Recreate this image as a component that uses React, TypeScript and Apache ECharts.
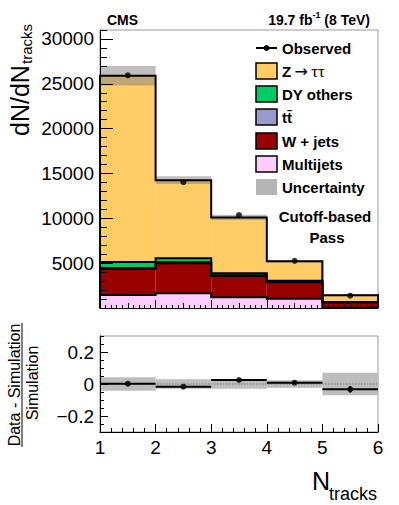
import { useEffect, useRef } from 'react';
import * as echarts from 'echarts';

const FONT = '"Liberation Sans", Arial, Helvetica, sans-serif';

const binEdges = [1, 2, 3, 4, 5, 6];
const multijets = [1450, 1640, 1190, 1040, 30];
const wjets = [2900, 3350, 2380, 1830, 610];
const ttbar = [100, 100, 80, 60, 15];
const dyOthers = [680, 460, 220, 120, 15];
const ztautau = [20770, 8700, 6230, 2160, 750];
const observed = [25950, 14030, 10360, 5260, 1375];
const mcUnc = [1090, 430, 300, 125, 100];
const ratio = [0.002, -0.017, 0.025, 0.008, -0.033];
const ratioErr = [0.004, 0.005, 0.006, 0.008, 0.02];
const ratioUnc = [0.042, 0.03, 0.03, 0.024, 0.07];
const yTicks = [5000, 10000, 15000, 20000, 25000, 30000];
const ratioTicks = [-0.2, 0, 0.2];

const comps = [
  { name: 'Multijets', values: multijets, color: '#ffccff' },
  { name: 'W + jets', values: wjets, color: '#990000' },
  { name: 'tt\u0304', values: ttbar, color: '#9999cc' },
  { name: 'DY others', values: dyOthers, color: '#00cc66' },
  { name: 'Z \u2192 \u03c4\u03c4', values: ztautau, color: '#ffcc66' },
];

export default function App() {
  const ref = useRef<HTMLDivElement>(null);
  useEffect(() => {
    const chart = echarts.init(ref.current!, null, { renderer: 'svg' });
    const nb = binEdges.length - 1;
    const cum: number[][] = [];
    const base: number[][] = [];
    comps.forEach((c, k) => {
      base.push(c.values.map((_, i) => (k === 0 ? 0 : cum[k - 1][i])));
      cum.push(c.values.map((v, i) => base[k][i] + v));
    });
    const total = cum[cum.length - 1];
    const centers = binEdges.slice(0, nb).map((e, i) => (e + binEdges[i + 1]) / 2);

    const rectItem = (fill: string) => (params: any, api: any) => {
      const p0 = api.coord([api.value(0), api.value(3)]);
      const p1 = api.coord([api.value(1), api.value(2)]);
      return {
        type: 'rect',
        shape: { x: p0[0], y: p0[1], width: p1[0] - p0[0], height: p1[1] - p0[1] },
        style: { fill },
      };
    };

    const fillSeries = comps.map((c, k) => ({
      type: 'custom',
      name: c.name,
      xAxisIndex: 0,
      yAxisIndex: 0,
      z: 2,
      data: c.values.map((_, i) => [binEdges[i], binEdges[i + 1], base[k][i], cum[k][i]]),
      encode: { x: [0, 1], y: [2, 3] },
      renderItem: rectItem(c.color),
    }));

    const outlineSeries = comps.map((c, k) => ({
      type: 'custom',
      xAxisIndex: 0,
      yAxisIndex: 0,
      z: 4,
      data: [[binEdges[0], 0]],
      renderItem: (params: any, api: any) => {
        const pts: number[][] = [api.coord([binEdges[0], 0])];
        for (let i = 0; i < nb; i++) {
          pts.push(api.coord([binEdges[i], cum[k][i]]));
          pts.push(api.coord([binEdges[i + 1], cum[k][i]]));
        }
        pts.push(api.coord([binEdges[nb], 0]));
        return { type: 'polyline', shape: { points: pts }, style: { stroke: '#000', lineWidth: 2, fill: 'none' } };
      },
    }));

    const uncSeries = {
      type: 'custom',
      xAxisIndex: 0,
      yAxisIndex: 0,
      z: 3,
      data: total.map((t, i) => [binEdges[i], binEdges[i + 1], t - mcUnc[i], t + mcUnc[i]]),
      encode: { x: [0, 1], y: [2, 3] },
      renderItem: rectItem('rgba(128,128,128,0.5)'),
    };

    const obsSeries = {
      type: 'scatter',
      xAxisIndex: 0,
      yAxisIndex: 0,
      z: 5,
      symbol: 'circle',
      symbolSize: 6,
      itemStyle: { color: '#000' },
      data: observed.map((v, i) => [centers[i], v]),
    };

    const ratioBand = {
      type: 'custom',
      xAxisIndex: 2,
      yAxisIndex: 2,
      z: 2,
      data: ratioUnc.map((u, i) => [binEdges[i], binEdges[i + 1], -u, u]),
      encode: { x: [0, 1], y: [2, 3] },
      renderItem: rectItem('#bdbdbd'),
    };

    const zeroLine = {
      type: 'custom',
      xAxisIndex: 2,
      yAxisIndex: 2,
      z: 3,
      data: [[binEdges[0], 0]],
      renderItem: (params: any, api: any) => {
        const a = api.coord([binEdges[0], 0]);
        const b = api.coord([binEdges[nb], 0]);
        return {
          type: 'line',
          shape: { x1: a[0], y1: a[1], x2: b[0], y2: b[1] },
          style: { stroke: '#777', lineWidth: 1, lineDash: [1.5, 1.5] },
        };
      },
    };

    const ratioLines = {
      type: 'custom',
      xAxisIndex: 2,
      yAxisIndex: 2,
      z: 4,
      data: ratio.map((r, i) => [binEdges[i], binEdges[i + 1], r]),
      renderItem: (params: any, api: any) => {
        const a = api.coord([api.value(0), api.value(2)]);
        const b = api.coord([api.value(1), api.value(2)]);
        return {
          type: 'line',
          shape: { x1: a[0], y1: a[1], x2: b[0], y2: b[1] },
          style: { stroke: '#000', lineWidth: 2 },
        };
      },
    };

    const ratioErrSeries = {
      type: 'custom',
      xAxisIndex: 2,
      yAxisIndex: 2,
      z: 4,
      data: ratio.map((r, i) => [centers[i], r - ratioErr[i], r + ratioErr[i]]),
      renderItem: (params: any, api: any) => {
        const a = api.coord([api.value(0), api.value(1)]);
        const b = api.coord([api.value(0), api.value(2)]);
        return {
          type: 'line',
          shape: { x1: a[0], y1: a[1], x2: b[0], y2: b[1] },
          style: { stroke: '#000', lineWidth: 2 },
        };
      },
    };

    const ratioDots = {
      type: 'scatter',
      xAxisIndex: 2,
      yAxisIndex: 2,
      z: 5,
      symbol: 'circle',
      symbolSize: 6,
      itemStyle: { color: '#000' },
      data: ratio.map((r, i) => [centers[i], r]),
    };

    const black = { color: '#000', width: 1 };
    const hiddenLabel = { show: false };
    const noSplit = { show: false };

    const legendX = 256;
    const legendTextX = 282;
    const legendYs = [48, 71, 94, 117, 141, 164, 187];
    const legendComps = [comps[4], comps[3], comps[2], comps[1], comps[0]];
    const bold15 = `bold 15px ${FONT}`;

    const graphic: any[] = [];
    graphic.push({ type: 'line', shape: { x1: legendX, y1: legendYs[0], x2: legendX + 21, y2: legendYs[0] }, style: { stroke: '#000', lineWidth: 2 } });
    graphic.push({ type: 'circle', shape: { cx: legendX + 10.5, cy: legendYs[0], r: 3 }, style: { fill: '#000' } });
    graphic.push({ type: 'text', x: legendTextX, y: legendYs[0], style: { text: 'Observed', font: bold15, fill: '#000', verticalAlign: 'middle' } });
    legendComps.forEach((c, j) => {
      const y = legendYs[j + 1];
      graphic.push({ type: 'rect', shape: { x: legendX, y: y - 8, width: 21, height: 16 }, style: { fill: c.color, stroke: '#000', lineWidth: 1.5 } });
      if (j === 0) {
        graphic.push({
          type: 'text', x: legendTextX, y,
          style: {
            text: '{b|Z} {a|\u2192} {t|\u03c4\u03c4}', verticalAlign: 'middle', fill: '#000',
            rich: {
              b: { font: bold15, fill: '#000' },
              a: { fontSize: 16, fontFamily: '"DejaVu Sans", sans-serif', fill: '#000' },
              t: { fontSize: 17, fontFamily: '"Liberation Serif", "DejaVu Serif", serif', fill: '#000' },
            },
          },
        });
      } else {
        graphic.push({ type: 'text', x: legendTextX, y, style: { text: c.name, font: bold15, fill: '#000', verticalAlign: 'middle' } });
      }
    });
    graphic.push({ type: 'rect', shape: { x: legendX, y: legendYs[6] - 8, width: 21, height: 16 }, style: { fill: '#b5b5b5' } });
    graphic.push({ type: 'text', x: legendTextX, y: legendYs[6], style: { text: 'Uncertainty', font: bold15, fill: '#000', verticalAlign: 'middle' } });

    graphic.push({ type: 'text', x: 325, y: 216, style: { text: 'Cutoff-based', font: bold15, fill: '#000', align: 'center', verticalAlign: 'middle' } });
    graphic.push({ type: 'text', x: 327, y: 237, style: { text: 'Pass', font: bold15, fill: '#000', align: 'center', verticalAlign: 'middle' } });

    graphic.push({ type: 'text', x: 107, y: 20, style: { text: 'CMS', font: `bold 14px ${FONT}`, fill: '#000', verticalAlign: 'middle' } });
    graphic.push({
      type: 'text', x: 370, y: 20,
      style: {
        text: '{a|19.7 fb}{s|-1}{a| (8 TeV)}', align: 'right', verticalAlign: 'middle', fill: '#000',
        rich: {
          a: { fontSize: 14, fontWeight: 'bold', fontFamily: FONT, lineHeight: 20, fill: '#000' },
          s: { fontSize: 9, fontWeight: 'bold', fontFamily: FONT, lineHeight: 14, verticalAlign: 'top', fill: '#000' },
        },
      },
    });

    graphic.push({ type: 'text', x: 19.5, y: 136, rotation: Math.PI / 2, style: { text: 'dN/dN', font: `25px ${FONT}`, fill: '#000', align: 'left', verticalAlign: 'middle' } });
    graphic.push({ type: 'text', x: 26, y: 64, rotation: Math.PI / 2, style: { text: 'tracks', font: `15px ${FONT}`, fill: '#000', align: 'left', verticalAlign: 'middle' } });

    graphic.push({ type: 'text', x: 14.5, y: 385, rotation: Math.PI / 2, style: { text: 'Data - Simulation', font: `16px ${FONT}`, fill: '#000', align: 'center', verticalAlign: 'middle' } });
    graphic.push({ type: 'line', shape: { x1: 22, y1: 323, x2: 22, y2: 447 }, style: { stroke: '#000', lineWidth: 1 } });
    graphic.push({ type: 'text', x: 32.5, y: 383, rotation: Math.PI / 2, style: { text: 'Simulation', font: `16px ${FONT}`, fill: '#000', align: 'center', verticalAlign: 'middle' } });

    graphic.push({ type: 'text', x: 330, y: 481, style: { text: 'N', font: `25px ${FONT}`, fill: '#000', align: 'right', verticalAlign: 'middle' } });
    graphic.push({ type: 'text', x: 377, y: 494, style: { text: 'tracks', font: `18px ${FONT}`, fill: '#000', align: 'right', verticalAlign: 'middle' } });

    const labelStyle = { color: '#000', fontSize: 19, fontFamily: FONT };

    const option: any = {
      animation: false,
      backgroundColor: '#fff',
      grid: [
        { left: 100, top: 30, width: 278, height: 278, show: true, borderColor: '#999', borderWidth: 1, backgroundColor: 'transparent' },
        { left: 100, top: 30, width: 278, height: 278, show: false },
        { left: 100, top: 336, width: 278, height: 96, show: true, borderColor: '#999', borderWidth: 1, backgroundColor: 'transparent' },
        { left: 100, top: 336, width: 278, height: 96, show: false },
      ],
      xAxis: [
        {
          type: 'value', gridIndex: 0, min: 1, max: 6, interval: 1, z: 10,
          axisLine: { show: true, onZero: false, lineStyle: black },
          axisTick: { show: true, inside: true, length: 8, lineStyle: black },
          minorTick: { show: true, splitNumber: 10, length: 3, lineStyle: black },
          axisLabel: hiddenLabel, splitLine: noSplit, minorSplitLine: noSplit,
        },
        {
          type: 'value', gridIndex: 1, min: 1, max: 6, interval: 0.5, z: 10,
          axisLine: { show: false, onZero: false },
          axisTick: { show: true, inside: true, length: 5, lineStyle: black },
          axisLabel: hiddenLabel, splitLine: noSplit,
        },
        {
          type: 'value', gridIndex: 2, min: 1, max: 6, interval: 1, z: 10,
          axisLine: { show: true, onZero: false, lineStyle: black },
          axisTick: { show: true, inside: true, length: 8, lineStyle: black },
          minorTick: { show: true, splitNumber: 5, length: 4, lineStyle: black },
          axisLabel: { ...labelStyle, margin: 6, formatter: (v: number) => String(v) },
          splitLine: noSplit, minorSplitLine: noSplit,
        },
        {
          type: 'value', gridIndex: 3, min: 1, max: 6, interval: 1, show: false,
        },
      ],
      yAxis: [
        {
          type: 'value', gridIndex: 0, min: 0, max: 31000, interval: 5000, z: 10,
          axisLine: { show: true, onZero: false, lineStyle: black },
          axisTick: { show: true, inside: true, length: 13, lineStyle: black, customValues: yTicks },
          axisLabel: { ...labelStyle, margin: 6, customValues: yTicks, formatter: (v: number) => (v > 0 && v <= 30000 ? String(v) : '') },
          splitLine: noSplit,
        },
        {
          type: 'value', gridIndex: 1, min: 0, max: 31000, interval: 1000, z: 10,
          axisLine: { show: false, onZero: false },
          axisTick: { show: true, inside: true, length: 7, lineStyle: black },
          axisLabel: hiddenLabel, splitLine: noSplit,
        },
        {
          type: 'value', gridIndex: 2, min: -0.3, max: 0.3, interval: 0.1, z: 10,
          axisLine: { show: true, onZero: false, lineStyle: black },
          axisTick: { show: true, inside: true, length: 8, lineStyle: black, customValues: ratioTicks },
          axisLabel: {
            ...labelStyle, margin: 6, customValues: ratioTicks,
            formatter: (v: number) => (Math.abs(v) < 1e-9 ? '0' : v < 0 ? '\u2212' + Math.abs(v).toFixed(1) : v.toFixed(1)),
          },
          splitLine: noSplit,
        },
        {
          type: 'value', gridIndex: 3, min: -0.3, max: 0.3, interval: 0.05, z: 10,
          axisLine: { show: false, onZero: false },
          axisTick: { show: true, inside: true, length: 4, lineStyle: black },
          axisLabel: hiddenLabel, splitLine: noSplit,
        },
      ],
      series: [
        ...fillSeries,
        uncSeries,
        ...outlineSeries,
        obsSeries,
        ratioBand,
        zeroLine,
        ratioLines,
        ratioErrSeries,
        ratioDots,
      ],
      graphic,
    };
    chart.setOption(option);
    return () => chart.dispose();
  }, []);
  return <div ref={ref} style={{ position: 'fixed', left: 0, top: 0, width: 399, height: 505, background: '#fff' }} />;
}
